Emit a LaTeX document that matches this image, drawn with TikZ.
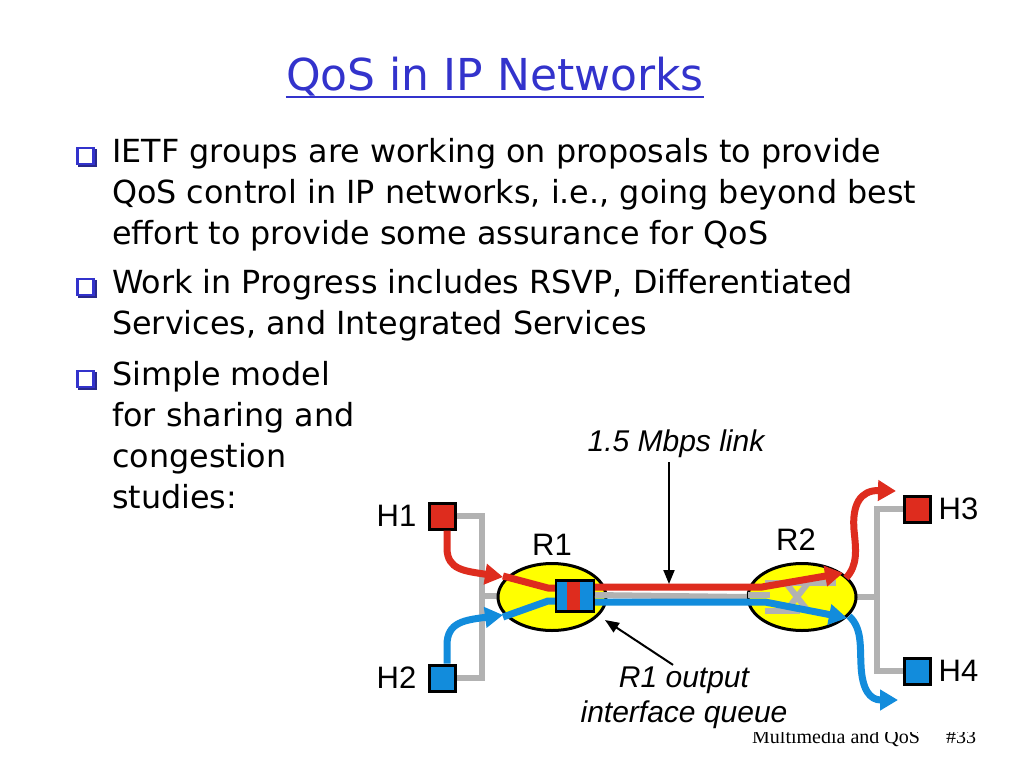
\documentclass[tikz,border=0pt]{standalone}
\usepackage{fontspec}
\setmainfont{DejaVu Sans}
\newfontfamily\arialfont{Liberation Sans}
\newfontfamily\timesfont{Liberation Serif}
\usetikzlibrary{positioning,shapes,arrows.meta,calc}

\definecolor{titleblue}{RGB}{51,51,204}
\definecolor{shadeblue}{RGB}{40,40,140}
\definecolor{flowred}{RGB}{222,44,30}
\definecolor{flowblue}{RGB}{18,140,220}
\definecolor{busgray}{RGB}{178,178,178}
\definecolor{routeryellow}{RGB}{255,255,0}

\begin{document}
\begin{tikzpicture}[x=1pt,y=-1pt,
    bodytext/.style={anchor=base west, inner sep=0pt, font=\fontsize{31.8}{38}\selectfont},
    bulletbox/.style={draw=titleblue, fill=white, line width=2.2pt, minimum size=16pt, inner sep=0pt},
    host/.style={draw=black, line width=3pt, minimum size=26pt, inner sep=0pt},
    router/.style={draw=black, ellipse, line width=3pt, fill=routeryellow, minimum width=108pt, minimum height=67pt, inner sep=0pt},
    lbl/.style={font=\arialfont\fontsize{31}{35}\selectfont, inner sep=0pt},
    bus/.style={busgray, line width=6pt},
    redflow/.style={flowred, line width=7pt},
    blueflow/.style={flowblue, line width=7pt},
    flowtip/.style={-{Triangle[length=18pt,width=20pt]}},
    pointer/.style={line width=2pt, -{Triangle[length=14pt,width=11pt]}},
  ]
    \fill[white] (0,0) rectangle (1024,768);
    \useasboundingbox (0,0) rectangle (1024,768);

    % Title
    \node[anchor=base, inner sep=0pt, text=titleblue, font=\fontsize{44}{50}\selectfont] (title) at (495,90) {QoS in IP Networks};
    \draw[titleblue, line width=2.5pt] ([yshift=-7pt]title.base west) -- ([yshift=-7pt]title.base east);

    % Bullets
    \foreach \y/\name in {156/b1, 287/b2, 379/b3} {
        \fill[shadeblue] (78,\y-7) rectangle (96.5,\y+10.5);
        \node[bulletbox] (\name) at (85.5,\y) {};
    }

    % Text lines
    \node[bodytext] (l1) at (112,162) {IETF groups are working on proposals to provide};
    \node[bodytext] (l2) at (112,203) {QoS control in IP networks, i.e., going beyond best};
    \node[bodytext] (l3) at (112,244) {effort to provide some assurance for QoS};
    \node[bodytext] (l4) at (112,293) {Work in Progress includes RSVP, Differentiated};
    \node[bodytext] (l5) at (112,334) {Services, and Integrated Services};
    \node[bodytext] (l6) at (112,385) {Simple model};
    \node[bodytext] (l7) at (112,426) {for sharing and};
    \node[bodytext] (l8) at (112,467) {congestion};
    \node[bodytext] (l9) at (112,508) {studies:};

    % Footer, its top hidden behind the figure
    \node[anchor=base west, inner sep=0pt, font=\timesfont\fontsize{20}{20}\selectfont] (footer) at (752,743) {Multimedia and QoS};
    \node[anchor=base west, inner sep=0pt, font=\timesfont\fontsize{20}{20}\selectfont] (pagenum) at (946,743) {\#33};
    \fill[white] (360,700) rectangle (995,732);

    % Hosts
    \node[host, fill=flowred] (h1) at (442,516) {};
    \node[host, fill=flowblue] (h2) at (442,678) {};
    \node[host, fill=flowred] (h3) at (917,509) {};
    \node[host, fill=flowblue] (h4) at (917,671) {};
    \node[lbl, left=11pt of h1] (h1lbl) {H1};
    \node[lbl, left=11pt of h2] (h2lbl) {H2};
    \node[lbl, right=7pt of h3] (h3lbl) {H3};
    \node[lbl, right=7pt of h4] (h4lbl) {H4};

    % Gray links
    \coordinate (jl) at (482,596);
    \coordinate (jr) at (877,597);
    \draw[bus] (h1) -| (jl) |- (h2);
    \draw[bus] (h3) -| (jr) |- (h4);
    \draw[bus] (jl) -- (510,596);
    \draw[bus] (850,597) -- (jr);

    % Routers
    \node[router] (r1) at (552,597) {};
    \node[router] (r2) at (802,597) {};
    \node[lbl, above=6pt of r1] (r1lbl) {R1};
    \node[lbl, above=11pt of r2, xshift=-6pt] (r2lbl) {R2};

    % Switch inside R2
    \draw[bus] (748,595) -- (770,595);
    \draw[bus] (765,583) -- (836,583);
    \draw[bus] (765,611) -- (800,611);
    \draw[bus] (786,583) -- (808,611);
    \draw[bus] (808,583) -- (786,611);

    % Flows through R1
    \draw[redflow] (503,576) -- (548,588) -- (565,588);
    \draw[blueflow] (503,617) -- (548,601) -- (565,601);

    % Output queue
    \node[draw, line width=2.5pt, fill=flowblue, minimum width=38pt, minimum height=31pt, inner sep=0pt,
          path picture={\fill[flowred] ([xshift=-8pt]path picture bounding box.south) rectangle ([xshift=5pt]path picture bounding box.north);}] (queue) at (575,596) {};

    % 1.5 Mbps link
    \coordinate (qred) at (595,587);
    \coordinate (qgray) at (595,595);
    \coordinate (qblue) at (595,602);
    \draw[bus] (qgray) -- (r2.west);
    \draw[redflow, flowtip] (qred) -- (762,587) -- (843,573);
    \draw[blueflow, flowtip] (qblue) -- (765,602) -- (847,618);

    % Flows from hosts and to hosts
    \draw[redflow, flowtip] ([xshift=5pt]h1.south) -- (447,548) .. controls (447,570) and (465,571) .. (503,577);
    \draw[blueflow, flowtip] ([xshift=5pt]h2.north) -- (447,645) .. controls (447,622) and (465,620) .. (503,615);
    \draw[redflow, flowtip] (846,578) .. controls (858,565) and (856,550) .. (854,530) .. controls (852,505) and (860,490) .. (896,491);
    \draw[blueflow, flowtip] (849,616) .. controls (862,628) and (860,645) .. (861,665) .. controls (862,690) and (870,700) .. (898,700);

    % Annotations
    \node[lbl, font=\arialfont\itshape\fontsize{30}{35}\selectfont] (linklbl) at (676,444) {1.5 Mbps link};
    \coordinate (linkpt) at (669,584);
    \draw[pointer] ([yshift=-4pt]linklbl.south -| linkpt) -- (linkpt);
    \node[lbl, align=center, font=\arialfont\itshape\fontsize{30}{35}\selectfont] (qlbl) at (684,698) {R1 output\\interface queue};
    \coordinate (qtip) at (605,620);
    \draw[pointer] ([xshift=-11pt,yshift=2pt]qlbl.north) -- (qtip);
\end{tikzpicture}
\end{document}
